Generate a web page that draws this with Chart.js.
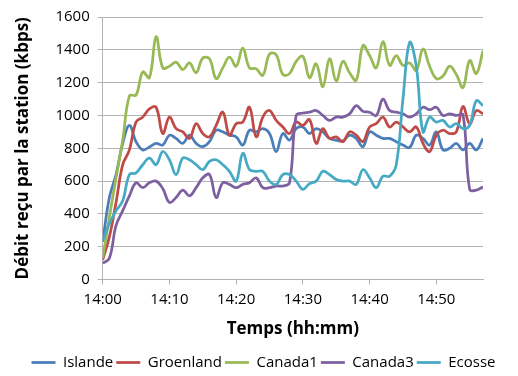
<!DOCTYPE html>
<html>
<head>
<meta charset="utf-8">
<script src="https://cdn.jsdelivr.net/npm/chart.js@4.4.1/dist/chart.umd.min.js"></script>
<style>
    html, body { margin: 0; padding: 0; background: #fff; }
    .chart-container { position: relative; width: 518px; height: 376px; }
</style>
</head>
<body>
<div class="chart-container"><canvas id="debitChart"></canvas></div>
<script>
// minutes after 14:00
const minutes = [0,1,2,3,4,5,6,7,8,9,10,11,12,13,14,15,16,17,18,19,20,21,22,23,24,25,26,27,28,29,
    30,31,32,33,34,35,36,37,38,39,40,41,42,43,44,45,46,47,48,49,50,51,52,53,54,55,56,57];

const islande = [230,500,640,830,940,840,790,808,830,820,880,860,830,880,830,810,840,910,900,880,
    870,820,910,900,920,890,780,890,850,920,930,890,920,900,860,850,845,880,860,810,
    900,880,860,860,840,820,805,880,860,820,900,790,800,830,790,830,790,860];

const groenland = [120,260,470,700,790,960,990,1040,1050,890,990,920,900,860,950,890,870,940,1020,880,
    950,960,1050,870,990,1030,970,930,890,960,940,975,830,920,860,870,840,900,880,840,
    930,950,990,930,960,930,900,930,830,780,880,910,890,900,1055,950,1030,1010];

const canada1 = [130,380,620,850,1120,1125,1265,1230,1480,1290,1300,1325,1280,1320,1260,1350,1345,1225,1290,1355,
    1300,1410,1290,1285,1245,1375,1370,1250,1255,1330,1360,1230,1315,1175,1345,1210,1330,1260,1215,1425,
    1365,1290,1450,1305,1365,1305,1320,1275,1405,1300,1225,1240,1300,1250,1170,1335,1255,1395];

const canada3 = [100,130,330,420,510,590,560,590,600,555,470,500,545,510,560,620,640,500,590,580,
    560,580,590,620,560,560,570,570,590,1000,1015,1020,1030,1000,970,990,990,1010,1060,1025,
    1020,1000,1100,1030,1020,1010,990,1010,1050,1035,1050,1000,1010,1000,1005,550,545,565];

const ecosse = [240,340,420,480,640,650,700,740,700,780,730,640,740,730,700,670,720,730,700,660,
    600,770,670,660,660,600,580,640,640,600,550,585,600,660,640,610,600,600,580,670,
    620,560,630,630,700,1100,1445,1300,900,990,960,970,930,950,920,940,1090,1060];

const seriesNames = ['Islande', 'Groenland', 'Canada1', 'Canada3', 'Ecosse'];
const seriesValues = [islande, groenland, canada1, canada3, ecosse];
const seriesColors = ['#4a7ebb', '#be4b48', '#98b954', '#7d60a0', '#46aac5'];

function toClock(m) {
    const h = 14 + Math.floor(m / 60);
    const mm = m % 60;
    return h + ':' + (mm < 10 ? '0' + mm : mm);
}

Chart.defaults.font.family = "'Open Sans', sans-serif";
Chart.defaults.color = '#000';

const ctx = document.getElementById('debitChart').getContext('2d');
new Chart(ctx, {
    type: 'line',
    data: {
        datasets: seriesNames.map((name, i) => ({
            label: name,
            data: minutes.map((m, j) => ({ x: m, y: seriesValues[i][j] })),
            borderColor: seriesColors[i],
            backgroundColor: seriesColors[i],
            borderWidth: 2.75,
            pointRadius: 0,
            tension: 0.4,
            order: seriesNames.length - i   // later series drawn on top, like Excel
        }))
    },
    options: {
        responsive: true,
        maintainAspectRatio: false,
        animation: false,
        layout: { padding: { top: 4, right: 4, left: 13, bottom: -4 } },
        plugins: {
            tooltip: { enabled: false },
            legend: {
                position: 'bottom',
                labels: {
                    usePointStyle: true,
                    pointStyle: 'line',
                    pointStyleWidth: 24,
                    boxHeight: 2,
                    padding: 3,
                    font: { size: 15, lineHeight: 1 },
                    sort: (a, b) => a.datasetIndex - b.datasetIndex
                }
            }
        },
        scales: {
            x: {
                type: 'linear',
                min: 0,
                max: 57,
                grid: { drawOnChartArea: false, drawTicks: true, tickLength: 5, color: '#b3b3b3' },
                border: { color: '#b3b3b3' },
                ticks: {
                    stepSize: 10,
                    includeBounds: false,
                    maxRotation: 0,
                    font: { size: 15 },
                    padding: 6,
                    callback: v => toClock(v)
                },
                title: {
                    display: true,
                    text: 'Temps (hh:mm)',
                    font: { size: 17, weight: 'bold' },
                    padding: { top: 4, bottom: 13 }
                }
            },
            y: {
                min: 0,
                max: 1600,
                grid: { color: '#b3b3b3', tickLength: 5 },
                border: { color: '#b3b3b3' },
                ticks: { stepSize: 200, font: { size: 15 }, padding: 8, callback: v => String(v) },
                title: {
                    display: true,
                    text: 'Débit reçu par la station (kbps)',
                    font: { size: 17, weight: 'bold' },
                    padding: { top: 0, bottom: 14 }
                }
            },
            // empty right axis, only reserves the blank margin right of the plot
            spacer: {
                position: 'right',
                display: true,
                grid: { display: false },
                border: { display: false },
                ticks: { display: false },
                afterFit: scale => { scale.width = 31; }
            }
        }
    }
});
</script>
</body>
</html>
